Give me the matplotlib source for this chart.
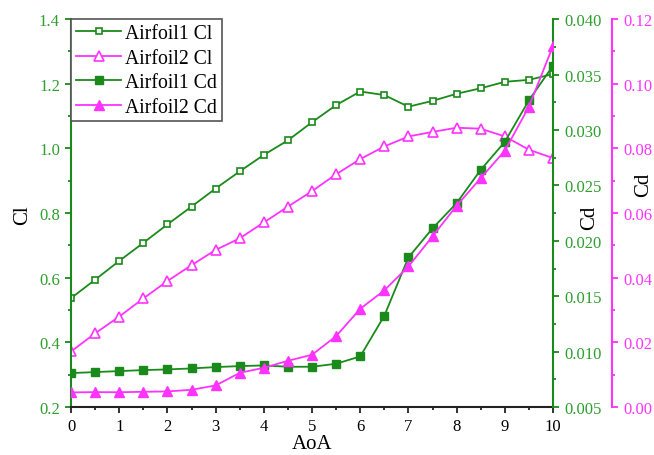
import matplotlib
matplotlib.use("Agg")
import matplotlib.pyplot as plt
from matplotlib.ticker import MultipleLocator, FormatStrFormatter

plt.rcParams['font.family'] = ['Liberation Serif', 'DejaVu Serif']

aoa = [0, 0.5, 1, 1.5, 2, 2.5, 3, 3.5, 4, 4.5, 5, 5.5, 6, 6.5, 7, 7.5, 8, 8.5, 9, 9.5, 10]
cl1 = [0.537, 0.594, 0.652, 0.708, 0.765, 0.820, 0.876, 0.929, 0.980, 1.025, 1.081, 1.134,
       1.176, 1.165, 1.129, 1.147, 1.169, 1.186, 1.206, 1.212, 1.230]
cl2 = [0.372, 0.428, 0.480, 0.536, 0.590, 0.639, 0.686, 0.722, 0.771, 0.820, 0.868, 0.920,
       0.967, 1.006, 1.037, 1.051, 1.064, 1.061, 1.037, 0.996, 0.970]
cd1 = [0.00807, 0.00816, 0.00825, 0.00834, 0.0084, 0.00849, 0.00861, 0.0087, 0.00876, 0.00864,
       0.00864, 0.00891, 0.00957, 0.01324, 0.0185, 0.02112, 0.0234, 0.0264, 0.02893, 0.03267, 0.0358]
cd2 = [0.00455, 0.00464, 0.0046, 0.00474, 0.00485, 0.00536, 0.0067, 0.0106, 0.01216, 0.01433,
       0.01619, 0.02196, 0.0304, 0.0361, 0.0435, 0.0528, 0.0623, 0.0708, 0.0793, 0.0929, 0.1117]

green = '#1a8a1a'
gtext = '#2e9e2e'
mag = '#ff33ff'

fig = plt.figure(figsize=(6.54, 4.56), dpi=100)
ax = fig.add_axes([0.1086, 0.105, 0.737, 0.851])
ax2 = ax.twinx()
ax3 = ax.twinx()

l1, = ax.plot(aoa, cl1, color=green, lw=1.3, marker='s', ms=5, mfc='white', mec=green, mew=1.2, label='Airfoil1 Cl')
l2, = ax.plot(aoa, cl2, color=mag, lw=1.3, marker='^', ms=6.5, mfc='white', mec=mag, mew=1.2, label='Airfoil2 Cl')
l3, = ax2.plot(aoa, cd1, color=green, lw=1.3, marker='s', ms=5.5, mfc=green, mec=green, label='Airfoil1 Cd')
l4, = ax3.plot(aoa, cd2, color=mag, lw=1.3, marker='^', ms=7, mfc=mag, mec=mag, label='Airfoil2 Cd')

ax.set_xlim(0, 10)
ax.set_ylim(0.2, 1.4)
ax2.set_ylim(0.005, 0.040)
ax3.set_ylim(0.0, 0.12)

ax.xaxis.set_major_locator(MultipleLocator(1))
ax.xaxis.set_minor_locator(MultipleLocator(0.5))
ax.yaxis.set_major_locator(MultipleLocator(0.2))
ax.yaxis.set_minor_locator(MultipleLocator(0.1))
ax2.yaxis.set_major_locator(MultipleLocator(0.005))
ax2.yaxis.set_minor_locator(MultipleLocator(0.0025))
ax3.yaxis.set_major_locator(MultipleLocator(0.02))
ax3.yaxis.set_minor_locator(MultipleLocator(0.01))
ax.yaxis.set_major_formatter(FormatStrFormatter('%.1f'))
ax2.yaxis.set_major_formatter(FormatStrFormatter('%.3f'))
ax3.yaxis.set_major_formatter(FormatStrFormatter('%.2f'))

for a in (ax, ax2, ax3):
    a.spines['top'].set_visible(False)
ax.spines['right'].set_visible(False)
ax2.spines['left'].set_visible(False)
ax3.spines['left'].set_visible(False)
ax2.spines['bottom'].set_visible(False)
ax3.spines['bottom'].set_visible(False)
# 59 px at 100 dpi
ax3.spines['right'].set_position(('outward', 42.5))

ax.spines['left'].set_color(green)
ax.spines['left'].set_linewidth(1.5)
ax.spines['bottom'].set_color('#222222')
ax.spines['bottom'].set_linewidth(1.5)
ax2.spines['right'].set_color(green)
ax2.spines['right'].set_linewidth(1.5)
ax3.spines['right'].set_color(mag)
ax3.spines['right'].set_linewidth(1.5)

ax.tick_params(axis='x', which='major', length=4.5, width=1.3, colors='#222222', labelsize=12, labelcolor='black')
ax.tick_params(axis='x', which='minor', length=2.5, width=1.3, colors='#222222')
ax.tick_params(axis='y', which='major', length=4.5, width=1.3, colors=green, labelsize=12, labelcolor=gtext)
ax.tick_params(axis='y', which='minor', length=2.5, width=1.3, colors=green)
ax2.tick_params(axis='y', which='major', length=4.5, width=1.3, colors=green, labelsize=12, labelcolor=gtext)
ax2.tick_params(axis='y', which='minor', length=2.5, width=1.3, colors=green)
ax3.tick_params(axis='y', which='major', length=4.5, width=1.3, colors=mag, labelsize=12, labelcolor=mag)
ax3.tick_params(axis='y', which='minor', length=2.5, width=1.3, colors=mag)

ax.set_xlabel('AoA', fontsize=15, labelpad=0)
ax.set_ylabel('Cl', fontsize=15)
ax2.set_ylabel('Cd', fontsize=15)
ax3.set_ylabel('Cd', fontsize=15)
ax.yaxis.set_label_coords(-0.081, 0.497)
ax2.yaxis.set_label_coords(1.056, 0.49)
ax3.yaxis.set_label_coords(1.168, 0.575)

leg = ax3.legend(handles=[l1, l2, l3, l4], loc='upper left', bbox_to_anchor=(0, 1),
                 borderaxespad=0, fontsize=14.2, fancybox=False, framealpha=1,
                 edgecolor='#555555', handlelength=2.3, handletextpad=0.2,
                 labelspacing=0.28, borderpad=0.25)
leg.get_frame().set_linewidth(1.2)

fig.savefig('out.png', dpi=100)
